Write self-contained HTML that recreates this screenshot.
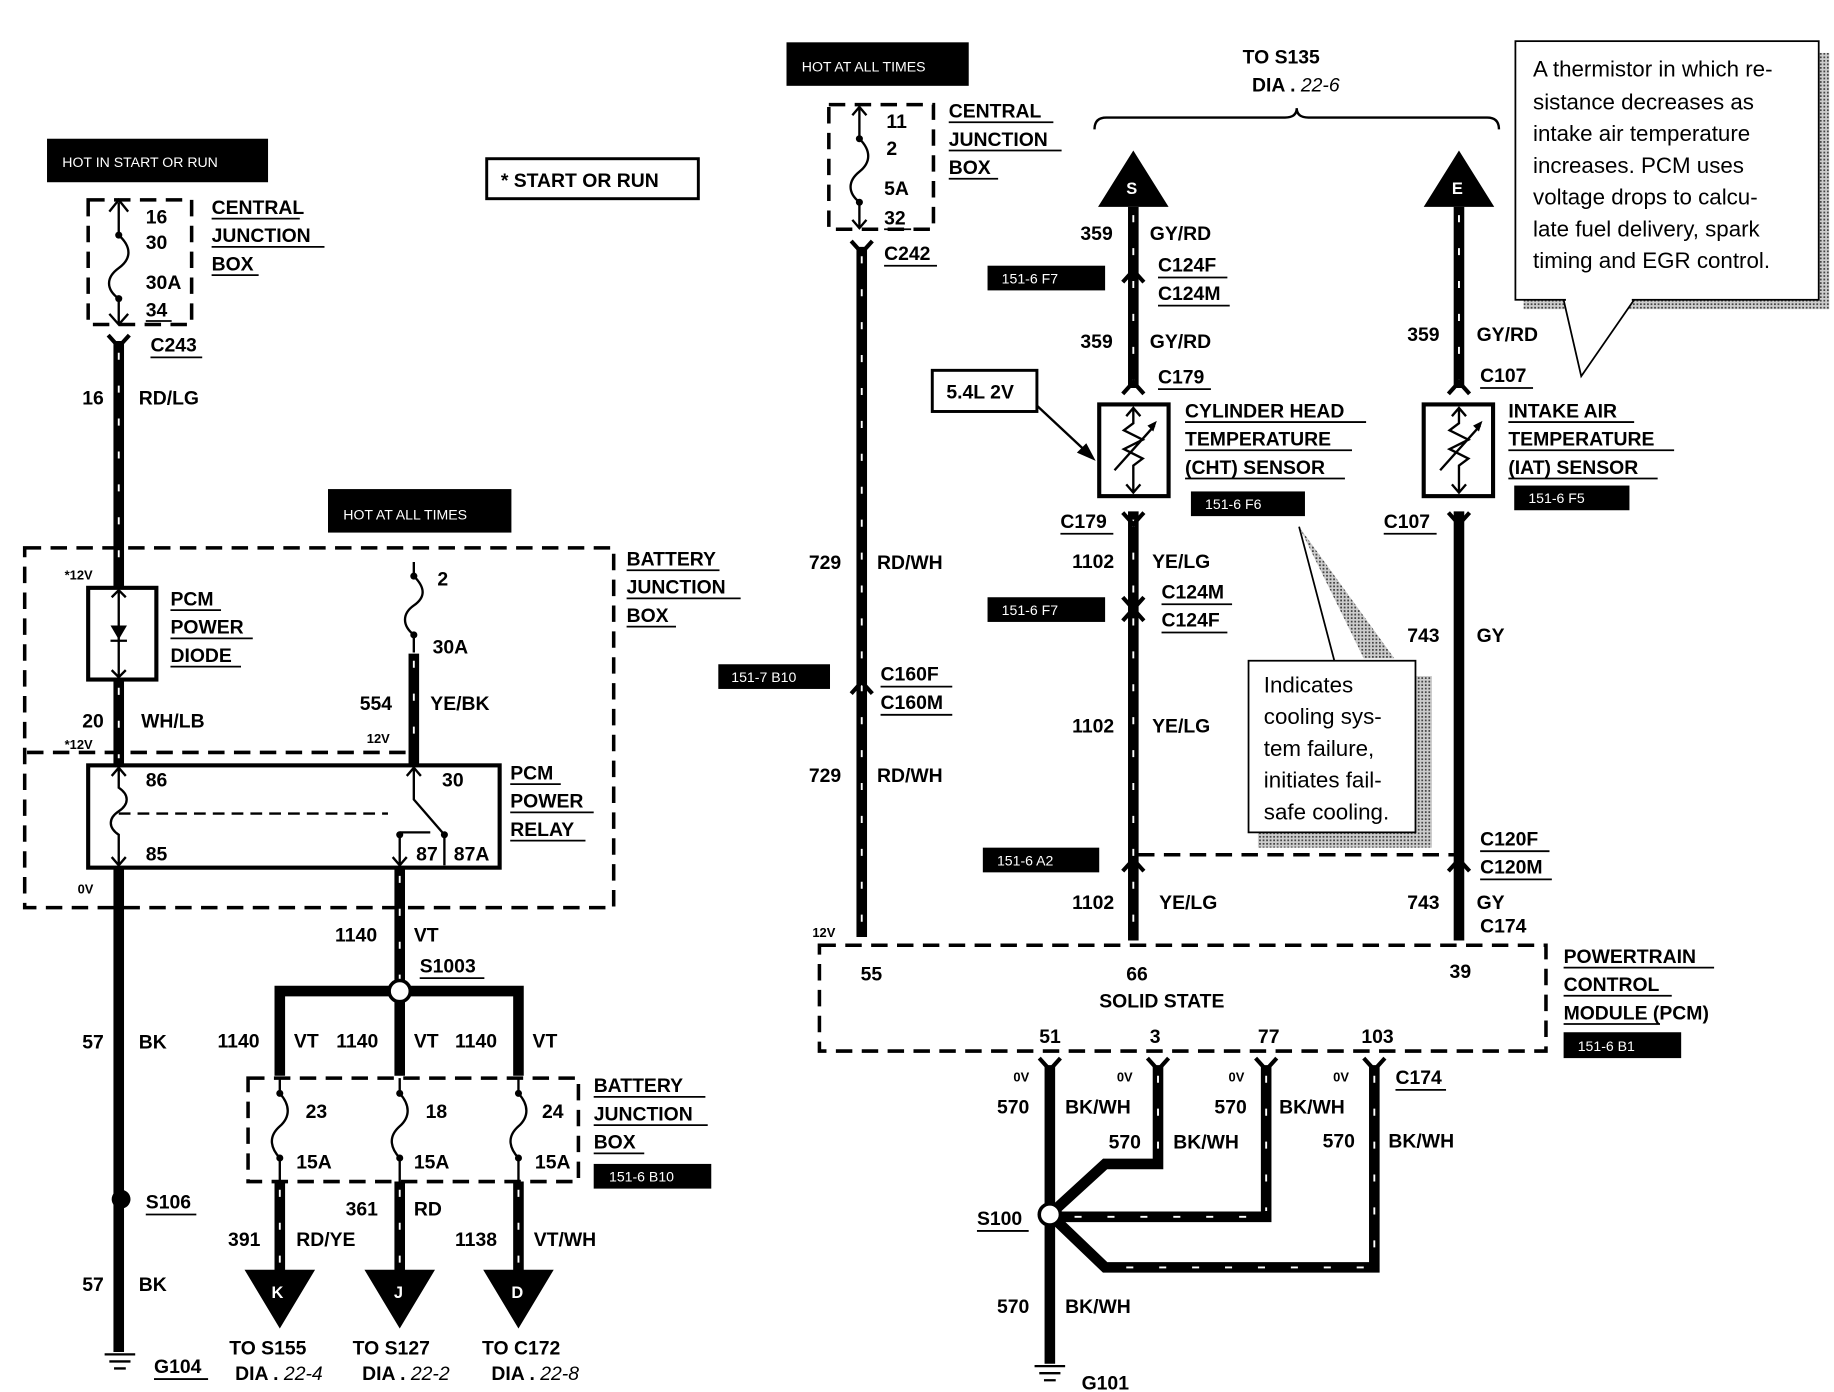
<!DOCTYPE html>
<html><head><meta charset="utf-8"><style>
html,body{margin:0;padding:0;background:#fff}
svg{display:block}
text{font-family:"Liberation Sans",Arial,sans-serif;font-weight:bold;font-size:16.5px;fill:#000}
.s{font-size:12px;fill:#fff;font-weight:normal}
.t{font-size:11px}
.n{font-weight:normal;font-size:19px}
.w{stroke:#000;stroke-width:9;fill:none}
.h{stroke:#fff;stroke-width:1.6;fill:none;stroke-dasharray:6 22}
.d{stroke:#000;stroke-width:3;fill:none;stroke-dasharray:14 8}
.l{stroke:#000;stroke-width:2;fill:none}
.b{stroke:#000;stroke-width:3.5;fill:none}
.u{stroke:#000;stroke-width:1.5}
</style></head><body>
<svg width="1834" height="1392" viewBox="0 0 1560 1184" preserveAspectRatio="none" xmlns="http://www.w3.org/2000/svg">
<defs>
<pattern id="dots" width="3" height="3" patternUnits="userSpaceOnUse"><rect width="3" height="3" fill="#ccc"/><rect width="1.5" height="1.5" fill="#444"/></pattern>
</defs>

<!-- ===== LEFT ===== -->
<rect x="40" y="118" width="188" height="37" fill="#000"/>
<text x="53" y="142" class="s">HOT IN START OR RUN</text>
<rect x="414" y="135" width="180" height="34" fill="none" stroke="#000" stroke-width="2.5"/>
<text x="426" y="159">* START OR RUN</text>

<rect x="75" y="170" width="88" height="106" class="d"/>
<path class="l" d="M101,172 V200 C112,210 112,220 101,228 C90,236 90,246 101,254 V275"/>
<path class="l" d="M93,180 L101,170 L109,180 M93,267 L101,276 L109,267"/>
<circle cx="101" cy="200" r="3"/><circle cx="101" cy="254" r="3"/>
<text x="124" y="190">16</text><text x="124" y="212">30</text><text x="124" y="246">30A</text><text x="124" y="269">34</text>
<line x1="124" y1="273" x2="146" y2="273" class="u"/>
<text x="180" y="182">CENTRAL</text><text x="180" y="206">JUNCTION</text><text x="180" y="230">BOX</text>
<path class="u" d="M180,186H255M180,210H276M180,234H220"/>

<path class="w" d="M101,290 V500"/><path class="h" d="M101,300 V495"/>
<path class="b" d="M92,285 L101,295 L110,285"/>
<text x="128" y="299">C243</text><line x1="128" y1="304" x2="172" y2="304" class="u"/>
<text x="70" y="344">16</text><text x="118" y="344">RD/LG</text>

<rect x="279" y="416" width="156" height="37" fill="#000"/>
<text x="292" y="442" class="s">HOT AT ALL TIMES</text>

<rect x="21" y="466" width="501" height="306" class="d"/>
<text x="533" y="481">BATTERY</text><text x="533" y="505">JUNCTION</text><text x="533" y="529">BOX</text>
<path class="u" d="M533,485H612M533,509H630M533,533H575"/>
<text x="55" y="493" class="t">*12V</text>
<rect x="75" y="500" width="58" height="78" class="b"/>
<path class="l" d="M101,502V576M95,508L101,502L107,508M95,570L101,576L107,570"/>
<path d="M94,532H108L101,544Z" fill="#000"/><line x1="94" y1="545" x2="108" y2="545" class="l"/>
<text x="145" y="515">PCM</text><text x="145" y="539">POWER</text><text x="145" y="563">DIODE</text>
<path class="u" d="M145,519H188M145,543H215M145,567H205"/>
<path class="w" d="M101,578V650"/><path class="h" d="M101,585V645"/>
<text x="70" y="619">20</text><text x="120" y="619">WH/LB</text>
<text x="55" y="637" class="t">*12V</text>

<path class="l" d="M352,478V490 C362,500 362,508 352,515 C342,522 342,532 352,540V555"/>
<circle cx="352" cy="490" r="3"/><circle cx="352" cy="540" r="3"/>
<text x="372" y="498">2</text><text x="368" y="556">30A</text>
<path class="w" d="M352,556V650"/><path class="h" d="M352,562V645"/>
<text x="306" y="604">554</text><text x="366" y="604">YE/BK</text>
<text x="312" y="632" class="t">12V</text>
<path class="d" d="M23,640H350"/>

<rect x="75" y="651" width="350" height="87" class="b"/>
<path class="l" d="M101,653V670 C110,676 110,684 101,690 C92,696 92,704 101,710V736M95,660L101,653L107,660M95,729L101,736L107,729"/>
<path d="M101,692H330" stroke="#000" stroke-width="2" stroke-dasharray="10 6"/>
<path class="l" d="M352,653V680 L378,710 M346,660L352,653L358,660 M340,710V736 M334,729L340,736L346,729 M340,708H366"/>
<circle cx="340" cy="710" r="3"/><circle cx="378" cy="710" r="3"/>
<path class="l" d="M378,710V736"/>
<text x="124" y="669">86</text><text x="376" y="669">30</text><text x="124" y="732">85</text>
<text x="354" y="732">87</text><text x="386" y="732">87A</text>
<text x="434" y="663">PCM</text><text x="434" y="687">POWER</text><text x="434" y="711">RELAY</text>
<path class="u" d="M434,667H477M434,691H505M434,715H498"/>
<text x="66" y="760" class="t">0V</text>

<path class="w" d="M101,738V1150"/>
<text x="70" y="892">57</text><text x="118" y="892">BK</text>
<circle cx="103" cy="1020" r="8"/>
<text x="124" y="1028">S106</text><line x1="124" y1="1033" x2="167" y2="1033" class="u"/>
<text x="70" y="1098">57</text><text x="118" y="1098">BK</text>
<path class="l" d="M89,1152H115M93,1158H111M97,1164H107" stroke-width="2.5"/>
<text x="131" y="1168">G104</text><line x1="131" y1="1173" x2="177" y2="1173" class="u"/>

<path class="w" d="M340,738V843"/><path class="h" d="M340,745V838"/>
<text x="285" y="801">1140</text><text x="352" y="801">VT</text>
<text x="357" y="827">S1003</text><line x1="357" y1="832" x2="412" y2="832" class="u"/>
<path class="w" d="M238,915V843H441V915M340,843V915"/>
<circle cx="340" cy="843" r="9" fill="#fff" stroke="#000" stroke-width="3"/>
<text x="185" y="891">1140</text><text x="250" y="891">VT</text><text x="286" y="891">1140</text><text x="352" y="891">VT</text><text x="387" y="891">1140</text><text x="453" y="891">VT</text>
<rect x="211" y="917" width="281" height="88" class="d"/>
<g class="l">
<path d="M238,917V930 C247,940 247,950 238,958 C229,966 229,975 238,985V1005"/>
<path d="M340,917V930 C349,940 349,950 340,958 C331,966 331,975 340,985V1005"/>
<path d="M441,917V930 C450,940 450,950 441,958 C432,966 432,975 441,985V1005"/>
</g>
<circle cx="238" cy="930" r="3"/><circle cx="238" cy="985" r="3"/><circle cx="340" cy="930" r="3"/><circle cx="340" cy="985" r="3"/><circle cx="441" cy="930" r="3"/><circle cx="441" cy="985" r="3"/>
<text x="260" y="951">23</text><text x="362" y="951">18</text><text x="461" y="951">24</text>
<text x="252" y="994">15A</text><text x="352" y="994">15A</text><text x="455" y="994">15A</text>
<text x="505" y="929">BATTERY</text><text x="505" y="953">JUNCTION</text><text x="505" y="977">BOX</text>
<path class="u" d="M505,933H600M505,957H602M505,981H548"/>
<rect x="505" y="990" width="100" height="21" fill="#000"/><text x="518" y="1005" class="s">151-6 B10</text>
<path class="w" d="M238,1005V1082M340,1005V1082M441,1005V1082"/><path class="h" d="M238,1012V1078M340,1012V1078M441,1012V1078"/>
<path d="M208,1080H268L238,1130Z M310,1080H370L340,1130Z M411,1080H471L441,1130Z" fill="#000"/>
<text x="231" y="1104" class="s" style="font-size:14px;font-weight:bold">K</text>
<text x="335" y="1104" class="s" style="font-size:14px;font-weight:bold">J</text>
<text x="435" y="1104" class="s" style="font-size:14px;font-weight:bold">D</text>
<text x="194" y="1060">391</text><text x="252" y="1060">RD/YE</text>
<text x="294" y="1034">361</text><text x="352" y="1034">RD</text>
<text x="387" y="1060">1138</text><text x="454" y="1060">VT/WH</text>
<text x="195" y="1152">TO S155</text><text x="200" y="1174">DIA . <tspan font-style="italic" font-weight="normal">22-4</tspan></text>
<text x="300" y="1152">TO S127</text><text x="308" y="1174">DIA . <tspan font-style="italic" font-weight="normal">22-2</tspan></text>
<text x="410" y="1152">TO C172</text><text x="418" y="1174">DIA . <tspan font-style="italic" font-weight="normal">22-8</tspan></text>

<!-- ===== RIGHT ===== -->
<rect x="669" y="36" width="155" height="37" fill="#000"/>
<text x="682" y="61" class="s">HOT AT ALL TIMES</text>
<rect x="705" y="89" width="89" height="106" class="d"/>
<path class="l" d="M731,91V118 C741,128 741,138 731,146 C721,154 721,164 731,172V194M725,98L731,91L737,98M725,187L731,194L737,187"/>
<circle cx="731" cy="118" r="3"/><circle cx="731" cy="172" r="3"/>
<text x="754" y="109">11</text><text x="754" y="132">2</text><text x="752" y="166">5A</text><text x="752" y="191">32</text>
<line x1="752" y1="195" x2="775" y2="195" class="u"/>
<text x="807" y="100">CENTRAL</text><text x="807" y="124">JUNCTION</text><text x="807" y="148">BOX</text>
<path class="u" d="M807,104H896M807,128H903M807,152H849"/>
<text x="752" y="221">C242</text><line x1="752" y1="226" x2="797" y2="226" class="u"/>
<path class="w" d="M733,210V797"/><path class="h" d="M733,218V790"/>
<path class="b" d="M724,205L733,215L742,205"/>
<text x="688" y="484">729</text><text x="746" y="484">RD/WH</text>
<rect x="611" y="565" width="95" height="21" fill="#000"/><text x="622" y="580" class="s">151-7 B10</text>
<path class="b" d="M724,590L733,580L742,590"/>
<text x="749" y="579">C160F</text><text x="749" y="603">C160M</text><path class="u" d="M749,584H810M749,608H810"/>
<text x="688" y="665">729</text><text x="746" y="665">RD/WH</text>
<text x="691" y="797" class="t">12V</text>

<text x="1057" y="54">TO S135</text><text x="1065" y="78">DIA . <tspan font-style="italic" font-weight="normal">22-6</tspan></text>
<path class="l" d="M931,110 Q931,100 941,100 H1093 Q1103,100 1103,92 Q1103,100 1113,100 H1265 Q1275,100 1275,110" stroke-width="3"/>

<path d="M934,176H994L964,128Z M1211,176H1271L1241,128Z" fill="#000"/>
<text x="958" y="165" class="s" style="font-size:14px;font-weight:bold">S</text>
<text x="1235" y="165" class="s" style="font-size:14px;font-weight:bold">E</text>
<path class="w" d="M964,176V330M1241,176V330"/><path class="h" d="M964,183V325M1241,183V325"/>
<text x="919" y="204">359</text><text x="978" y="204">GY/RD</text>
<rect x="840" y="226" width="100" height="21" fill="#000"/><text x="852" y="241" class="s">151-6 F7</text>
<path class="b" d="M955,240L964,230L973,240"/>
<text x="985" y="231">C124F</text><text x="985" y="255">C124M</text><path class="u" d="M985,236H1044M985,260H1046"/>
<text x="919" y="296">359</text><text x="978" y="296">GY/RD</text>
<text x="985" y="326">C179</text><line x1="985" y1="331" x2="1030" y2="331" class="u"/>

<rect x="793" y="315" width="89" height="35" fill="#fff" stroke="#000" stroke-width="2.5"/>
<text x="805" y="339">5.4L 2V</text>
<path class="l" d="M882,345L928,388"/><path d="M932,392L916,385L924,377Z" fill="#000"/>

<rect x="935" y="344" width="59" height="78" class="b"/>
<rect x="1211" y="344" width="59" height="78" class="b"/>
<g class="l">
<path d="M964,347V360 L956,366 L972,374 L956,382 L972,390 L964,396V419 M958,354L964,347L970,354 M958,412L964,419L970,412 M948,400L982,362"/>
<path d="M1241,347V360 L1233,366 L1249,374 L1233,382 L1249,390 L1241,396V419 M1235,354L1241,347L1247,354 M1235,412L1241,419L1247,412 M1225,400L1259,362"/>
</g>
<path d="M984,358L976,362L981,367Z M1261,358L1253,362L1258,367Z" fill="#000"/>
<text x="1008" y="355">CYLINDER HEAD</text><text x="1008" y="379">TEMPERATURE</text><text x="1008" y="403">(CHT) SENSOR</text>
<path class="u" d="M1008,359H1162M1008,383H1150M1008,407H1144"/>
<rect x="1013" y="418" width="97" height="21" fill="#000"/><text x="1025" y="433" class="s">151-6 F6</text>
<text x="1283" y="355">INTAKE AIR</text><text x="1283" y="379">TEMPERATURE</text><text x="1283" y="403">(IAT) SENSOR</text>
<path class="u" d="M1283,359H1390M1283,383H1424M1283,407H1410"/>
<rect x="1288" y="413" width="98" height="21" fill="#000"/><text x="1300" y="428" class="s">151-6 F5</text>
<text x="1197" y="290">359</text><text x="1256" y="290">GY/RD</text>
<text x="1259" y="325">C107</text><line x1="1259" y1="330" x2="1304" y2="330" class="u"/>
<path class="b" d="M955,335L964,325L973,335 M1232,335L1241,325L1250,335"/>

<path class="w" d="M964,435V800M1241,435V800"/><path class="h" d="M964,442V795"/>
<path class="b" d="M955,436L964,446L973,436 M1232,436L1241,446L1250,436"/>
<text x="902" y="449">C179</text><line x1="902" y1="454" x2="947" y2="454" class="u"/>
<text x="1177" y="449">C107</text><line x1="1177" y1="454" x2="1222" y2="454" class="u"/>
<text x="912" y="483">1102</text><text x="980" y="483">YE/LG</text>
<rect x="840" y="508" width="100" height="21" fill="#000"/><text x="852" y="523" class="s">151-6 F7</text>
<path class="b" d="M955,508L964,518L973,508 M955,528L964,518L973,528"/>
<text x="988" y="509">C124M</text><text x="988" y="533">C124F</text><path class="u" d="M988,514H1048M988,538H1044"/>
<text x="912" y="623">1102</text><text x="980" y="623">YE/LG</text>
<text x="1197" y="546">743</text><text x="1256" y="546">GY</text>

<path d="M1105,448L1160,560L1186,560Z" fill="url(#dots)"/>
<rect x="1070" y="575" width="148" height="146" fill="url(#dots)"/>
<path class="u" d="M1105,448L1135,562" stroke-width="1"/>
<rect x="1062" y="562" width="142" height="146" fill="#fff" stroke="#000" stroke-width="1.5"/>
<text x="1075" y="589" class="n">Indicates</text><text x="1075" y="616" class="n">cooling sys-</text><text x="1075" y="643" class="n">tem failure,</text><text x="1075" y="670" class="n">initiates fail-</text><text x="1075" y="697" class="n">safe cooling.</text>

<path class="d" d="M968,727H1238" stroke-width="2.5"/>
<rect x="836" y="721" width="99" height="21" fill="#000"/><text x="848" y="736" class="s">151-6 A2</text>
<path class="b" d="M955,741L964,731L973,741 M1232,741L1241,731L1250,741"/>
<text x="912" y="773">1102</text><text x="986" y="773">YE/LG</text>
<text x="1259" y="719">C120F</text><text x="1259" y="743">C120M</text><path class="u" d="M1259,724H1318M1259,748H1320"/>
<text x="1197" y="773">743</text><text x="1256" y="773">GY</text>
<text x="1259" y="793">C174</text>

<rect x="1296" y="45" width="260" height="218" fill="url(#dots)"/>
<path d="M1330,255L1345,320L1390,255Z" fill="#fff" stroke="#000" stroke-width="1.5"/>
<rect x="1289" y="35" width="258" height="220" fill="#fff" stroke="#000" stroke-width="1.5"/>
<line x1="1332" y1="255" x2="1388" y2="255" stroke="#fff" stroke-width="3"/>
<text x="1304" y="65" class="n">A thermistor in which re-</text>
<text x="1304" y="93" class="n">sistance decreases as</text>
<text x="1304" y="120" class="n">intake air temperature</text>
<text x="1304" y="147" class="n">increases. PCM uses</text>
<text x="1304" y="174" class="n">voltage drops to calcu-</text>
<text x="1304" y="201" class="n">late fuel delivery, spark</text>
<text x="1304" y="228" class="n">timing and EGR control.</text>

<rect x="697" y="804" width="618" height="90" class="d"/>
<text x="732" y="834">55</text><text x="958" y="834">66</text><text x="1233" y="832">39</text>
<text x="935" y="857">SOLID STATE</text>
<text x="1330" y="819">POWERTRAIN</text><text x="1330" y="843">CONTROL</text><text x="1330" y="867">MODULE (PCM)</text>
<path class="u" d="M1330,823H1458M1330,847H1422M1330,871H1412"/>
<rect x="1330" y="878" width="100" height="22" fill="#000"/><text x="1342" y="894" class="s">151-6 B1</text>
<text x="884" y="887">51</text><text x="978" y="887">3</text><text x="1070" y="887">77</text><text x="1158" y="887">103</text>
<text x="862" y="920" class="t">0V</text><text x="950" y="920" class="t">0V</text><text x="1045" y="920" class="t">0V</text><text x="1134" y="920" class="t">0V</text>
<text x="1187" y="922">C174</text><line x1="1187" y1="927" x2="1230" y2="927" class="u"/>
<path class="b" d="M884,900L893,910L902,900 M976,900L985,910L994,900 M1068,900L1077,910L1086,900 M1160,900L1169,910L1178,900"/>

<path class="w" d="M893,906V1160 M985,906V990H940L893,1033 M1077,906V1035H893 M1169,906V1078H940L893,1033"/>
<path class="h" d="M985,915V985 M1077,915V1030 M1169,915V1073 M1060,1035H910 M1160,1078H945"/>
<circle cx="893" cy="1033" r="9" fill="#fff" stroke="#000" stroke-width="3"/>
<text x="848" y="947">570</text><text x="906" y="947">BK/WH</text>
<text x="943" y="977">570</text><text x="998" y="977">BK/WH</text>
<text x="1033" y="947">570</text><text x="1088" y="947">BK/WH</text>
<text x="1125" y="976">570</text><text x="1181" y="976">BK/WH</text>
<text x="831" y="1042">S100</text><line x1="831" y1="1047" x2="875" y2="1047" class="u"/>
<text x="848" y="1117">570</text><text x="906" y="1117">BK/WH</text>
<path class="l" d="M880,1162H906M884,1168H902M888,1174H898" stroke-width="2.5"/>
<text x="920" y="1182">G101</text><line x1="920" y1="1186" x2="966" y2="1186" class="u"/>
</svg>
</body></html>
